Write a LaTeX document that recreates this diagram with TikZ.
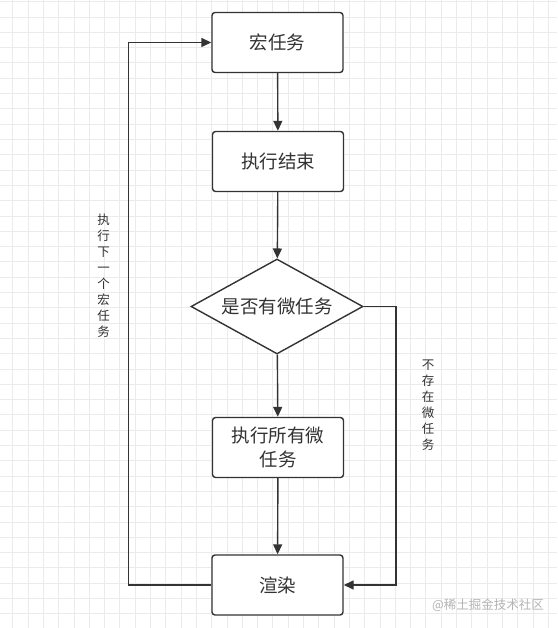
\documentclass[tikz,border=0pt]{standalone}
\usepackage{fontspec}
\newfontfamily\cjk{Noto Sans CJK SC}
\usetikzlibrary{shapes.geometric,arrows.meta}
\definecolor{ink}{HTML}{333333}
\definecolor{gridc}{HTML}{EBEBEB}
\definecolor{wm}{HTML}{B4B4B4}
\begin{document}
\begin{tikzpicture}[x=1pt,y=-1pt,
  boxnode/.style={draw=ink,line width=1.4pt,rounded corners=3pt,fill=white,
    minimum width=131pt,minimum height=60pt,inner sep=0pt,align=center,
    text=ink,font=\cjk\fontsize{18.5}{24}\selectfont},
  decnode/.style={draw=ink,line width=1.4pt,diamond,aspect=1.8,fill=white,
    minimum width=172pt,minimum height=95pt,inner sep=0pt,
    text=ink,font=\cjk\fontsize{18.5}{24}\selectfont},
  arr/.style={draw=ink,line width=1.4pt,-{Triangle[length=10pt,width=9pt]}},
  vlabel/.style={text=ink,align=center,inner sep=0pt,
    font=\cjk\fontsize{12.5}{16}\selectfont}]
\useasboundingbox (0,0) rectangle (557,628);
\fill[white] (0,0) rectangle (557,628);
\foreach \i in {0,...,36} {
  \draw[gridc,line width=0.8pt] ({12.7+15.3*\i},0) -- ({12.7+15.3*\i},628);
}
\foreach \j in {0,...,41} {
  \draw[gridc,line width=0.8pt] (0,{1.7+15.3*\j}) -- (557,{1.7+15.3*\j});
}
\node[boxnode] (b1) at (277.5,42.5) {宏任务};
\node[boxnode] (b2) at (278,161.5) {执行结束};
\node[decnode] (d) at (277,306.5) {是否有微任务};
\node[boxnode] (b4) at (278,447.5) {执行所有微\\任务};
\node[boxnode] (b5) at (277.5,585) {渲染};
\coordinate (lx) at (128.5,0);
\coordinate (rx) at (396,0);
\draw[arr] (b1) -- (b2);
\draw[arr] (b2) -- (d);
\draw[arr] (d) -- (b4);
\draw[arr] (b4) -- (b5);
\draw[arr] (d.east) -- (d.east -| rx) -- (rx |- b5.east) -- (b5.east);
\draw[arr] (b5.west) -- (lx |- b5.west) -- (lx |- b1.west) -- (b1.west);
\node[vlabel] (l1) at (103.5,276) {执\\行\\下\\一\\个\\宏\\任\\务};
\node[vlabel] (l2) at (428,405) {不\\存\\在\\微\\任\\务};
\node[text=wm,inner sep=0pt,font=\cjk\fontsize{12.5}{14}\selectfont] (w) at (488,605) {@稀土掘金技术社区};
\end{tikzpicture}
\end{document}
